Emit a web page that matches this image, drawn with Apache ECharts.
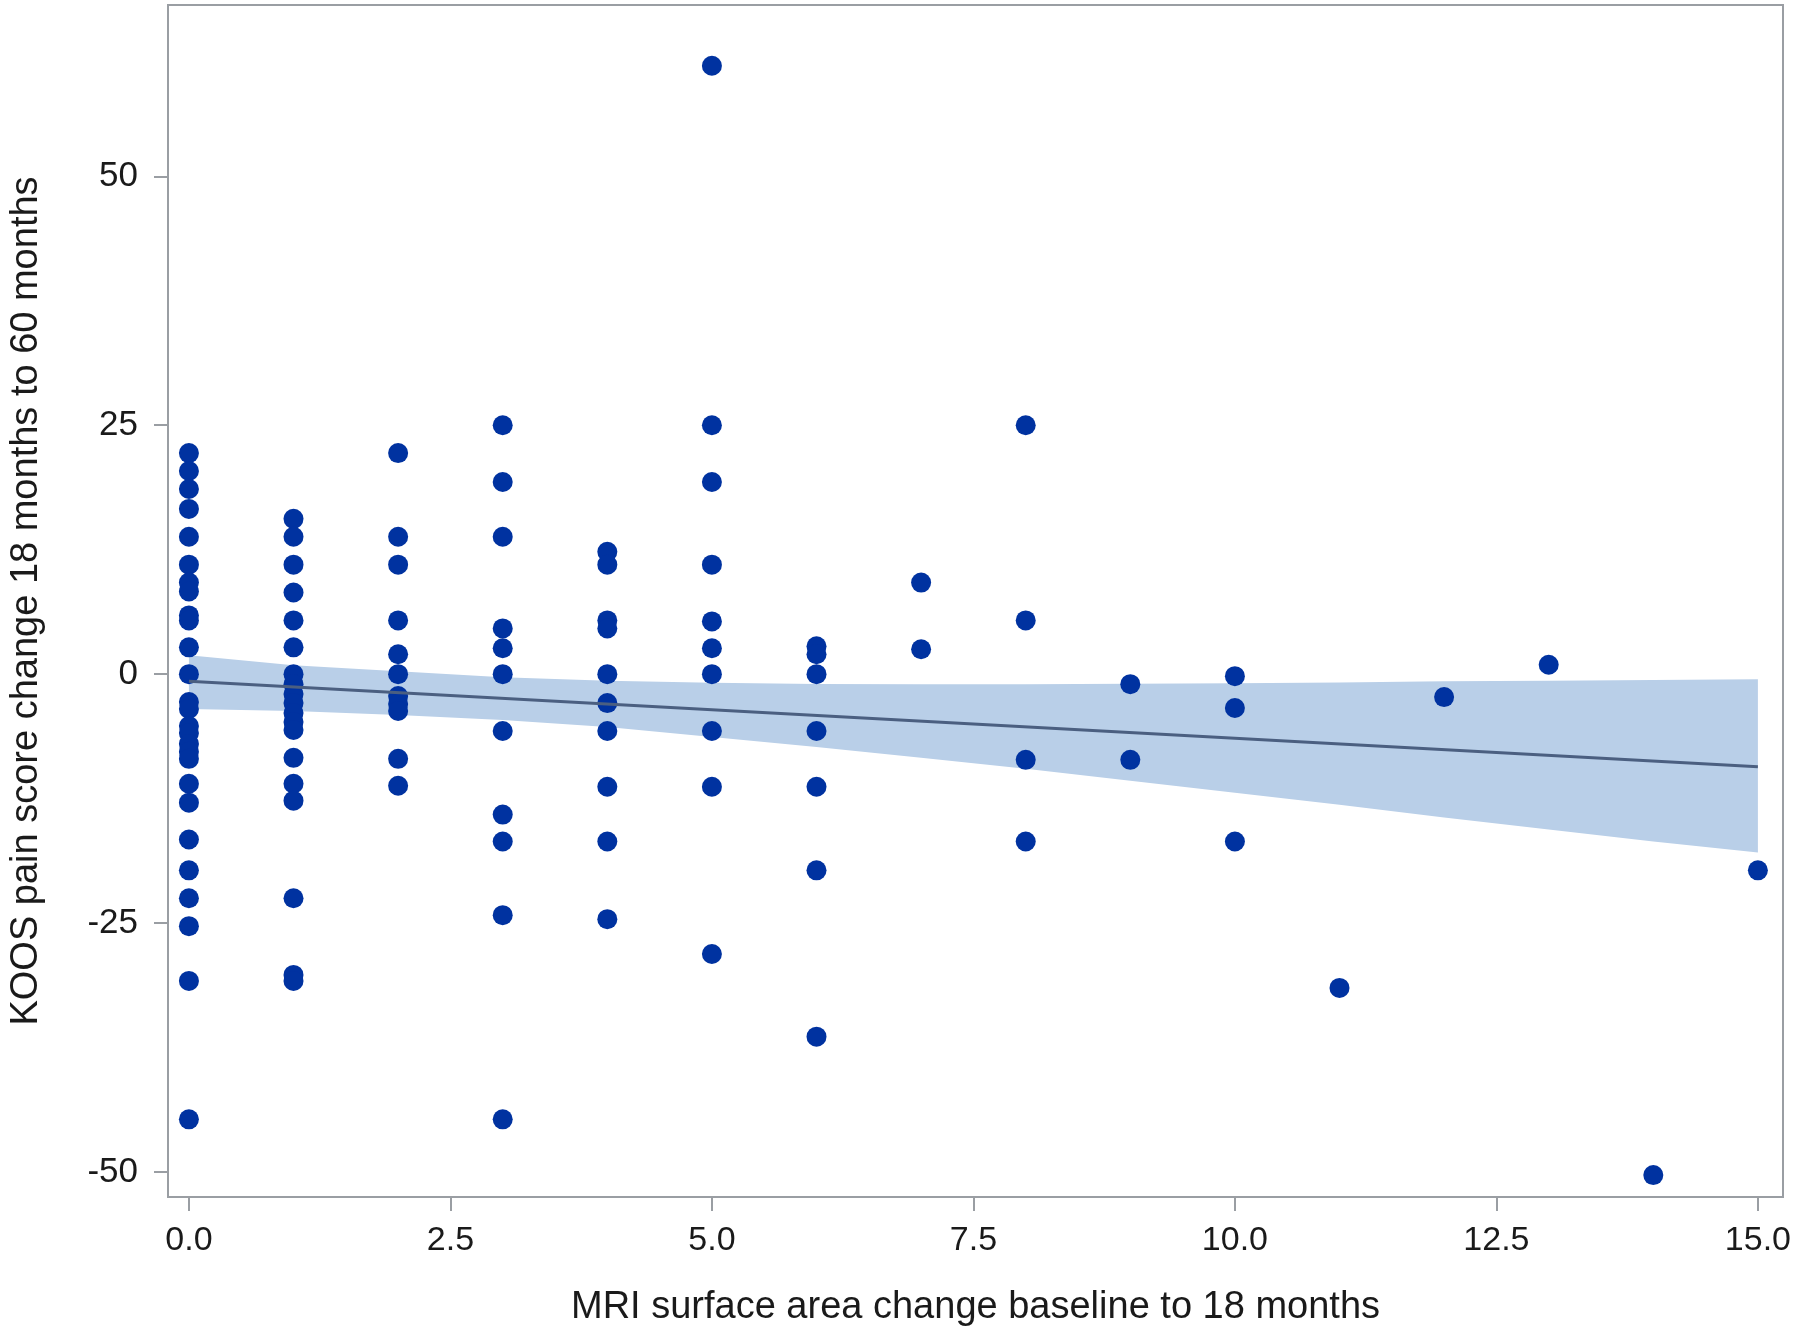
<!DOCTYPE html>
<html>
<head>
<meta charset="utf-8">
<script src="https://cdn.jsdelivr.net/npm/echarts@6/dist/echarts.min.js"></script>
<style>
  html, body { margin: 0; padding: 0; background: #ffffff; }
  #chart { width: 1800px; height: 1332px; }
</style>
</head>
<body>
<div id="chart"></div>
<script>
// ---- Data ----
const areaChange = [
  0,0,0,0,0,0,0,0,0,0,0,0,0,0,0,0,0,0,0,0,0,0,0,0,0,0,0,
  1,1,1,1,1,1,1,1,1,1,1,1,1,1,1,1,1,1,1,
  2,2,2,2,2,2,2,2,2,2,2,
  3,3,3,3,3,3,3,3,3,3,3,
  4,4,4,4,4,4,4,4,4,4,
  5,5,5,5,5,5,5,5,5,5,
  6,6,6,6,6,6,6,
  7,7,
  8,8,8,8,
  9,9,
  10,10,10,
  11,
  12,
  13,
  14,
  15
];
const koosChange = [
  22.2,20.4,18.6,16.6,13.8,11.0,9.2,8.3,5.9,5.4,2.7,0,-2.8,-3.5,-5.2,-5.9,-7.0,-7.8,-8.5,-11.0,-12.9,-16.6,-19.7,-22.5,-25.3,-30.8,-44.7,
  15.6,13.8,11.0,8.2,5.4,2.7,0,-1.0,-2.0,-2.9,-3.9,-4.8,-5.6,-8.4,-11.0,-12.7,-22.5,-30.2,-30.8,
  22.2,13.8,11.0,5.4,2.0,0,-2.2,-3.0,-3.7,-8.5,-11.2,
  25.0,19.3,13.8,4.6,2.6,0,-5.7,-14.1,-16.8,-24.2,-44.7,
  12.3,11.0,5.4,4.6,0,-2.9,-5.7,-11.3,-16.8,-24.6,
  61.1,25.0,19.3,11.0,5.3,2.6,0,-5.7,-11.3,-28.1,
  2.8,2.0,0,-5.7,-11.3,-19.7,-36.4,
  9.2,2.5,
  25.0,5.4,-8.6,-16.8,
  -1.0,-8.6,
  -0.2,-3.4,-16.8,
  -31.5,
  -2.3,
  0.95,
  -50.3,
  -19.7
];
// Regression line (end points) and 95% confidence band
const fitX = [0, 15];
const fitY = [-0.7, -9.3];
const bandX     = [0, 1, 2, 3, 4, 5, 6, 7, 8, 9, 10, 11, 12, 13, 14, 15];
const bandUpper = [1.9, 0.9, 0.3, -0.3, -0.65, -0.86, -0.98, -1.0, -1.0, -0.95, -0.9, -0.83, -0.72, -0.65, -0.58, -0.5];
const bandLower = [-3.5, -3.7, -4.1, -4.6, -5.3, -6.3, -7.3, -8.4, -9.5, -10.7, -11.9, -13.1, -14.4, -15.6, -16.8, -17.9];
// Tick labels
const xTicks = [0, 2.5, 5, 7.5, 10, 12.5, 15];
const yTicks = [-50, -25, 0, 25, 50];

const xTitle = 'MRI surface area change baseline to 18 months';
const yTitle = 'KOOS pain score change 18 months to 60 months';

// ---- Build series data ----
const scatterData = areaChange.map((x, i) => [x, koosChange[i]]);
const fitData = fitX.map((x, i) => [x, fitY[i]]);
const bandData = bandX.map((x, i) => [x, bandLower[i], bandUpper[i]]);

const FONT = "'Liberation Sans', Arial, sans-serif";
const AXIS_GRAY = '#9a9ea3';

const chart = echarts.init(document.getElementById('chart'), null, { renderer: 'canvas' });
chart.setOption({
  animation: false,
  backgroundColor: '#ffffff',
  grid: {
    left: 163, top: 5, width: 1620, height: 1193,
    show: true, borderColor: AXIS_GRAY, borderWidth: 2, backgroundColor: 'transparent'
  },
  xAxis: {
    type: 'value',
    min: -0.2, max: 15.24,
    position: 'bottom',
    name: xTitle,
    nameLocation: 'middle',
    nameGap: 92,
    nameTextStyle: { fontFamily: FONT, fontSize: 38, color: '#1a1a1a' },
    splitLine: { show: false },
    axisLine: { show: false, onZero: false },
    axisTick: { show: true, length: 14, customValues: xTicks, lineStyle: { color: AXIS_GRAY, width: 2 } },
    axisLabel: {
      customValues: xTicks, margin: 27,
      fontFamily: FONT, fontSize: 34, color: '#1a1a1a',
      formatter: v => Number(v).toFixed(1)
    }
  },
  yAxis: {
    type: 'value',
    min: -52.5, max: 67.2,
    position: 'left',
    name: yTitle,
    nameLocation: 'middle',
    nameGap: 122,
    nameTextStyle: { fontFamily: FONT, fontSize: 38, color: '#1a1a1a' },
    splitLine: { show: false },
    axisLine: { show: false, onZero: false },
    axisTick: { show: true, length: 14, customValues: yTicks, lineStyle: { color: AXIS_GRAY, width: 2 } },
    axisLabel: {
      customValues: yTicks, margin: 30,
      fontFamily: FONT, fontSize: 35, color: '#1a1a1a',
      formatter: v => String(v)
    }
  },
  series: [
    {
      type: 'custom',
      name: 'band',
      z: 1,
      silent: true,
      data: bandData,
      encode: { x: 0, y: [1, 2] },
      renderItem: function (params, api) {
        if (params.dataIndex !== 0) return null;
        const pts = [];
        for (let i = 0; i < bandData.length; i++) pts.push(api.coord([bandData[i][0], bandData[i][2]]));
        for (let i = bandData.length - 1; i >= 0; i--) pts.push(api.coord([bandData[i][0], bandData[i][1]]));
        return { type: 'polygon', shape: { points: pts }, style: { fill: '#b9cfe8', stroke: null } };
      }
    },
    {
      type: 'scatter',
      name: 'points',
      z: 2,
      data: scatterData,
      symbol: 'circle',
      symbolSize: 20,
      itemStyle: { color: '#0032a0', opacity: 1 }
    },
    {
      type: 'line',
      name: 'fit',
      z: 3,
      data: fitData,
      symbol: 'none',
      lineStyle: { color: '#4b5f80', width: 3 }
    }
  ]
});
</script>
</body>
</html>
